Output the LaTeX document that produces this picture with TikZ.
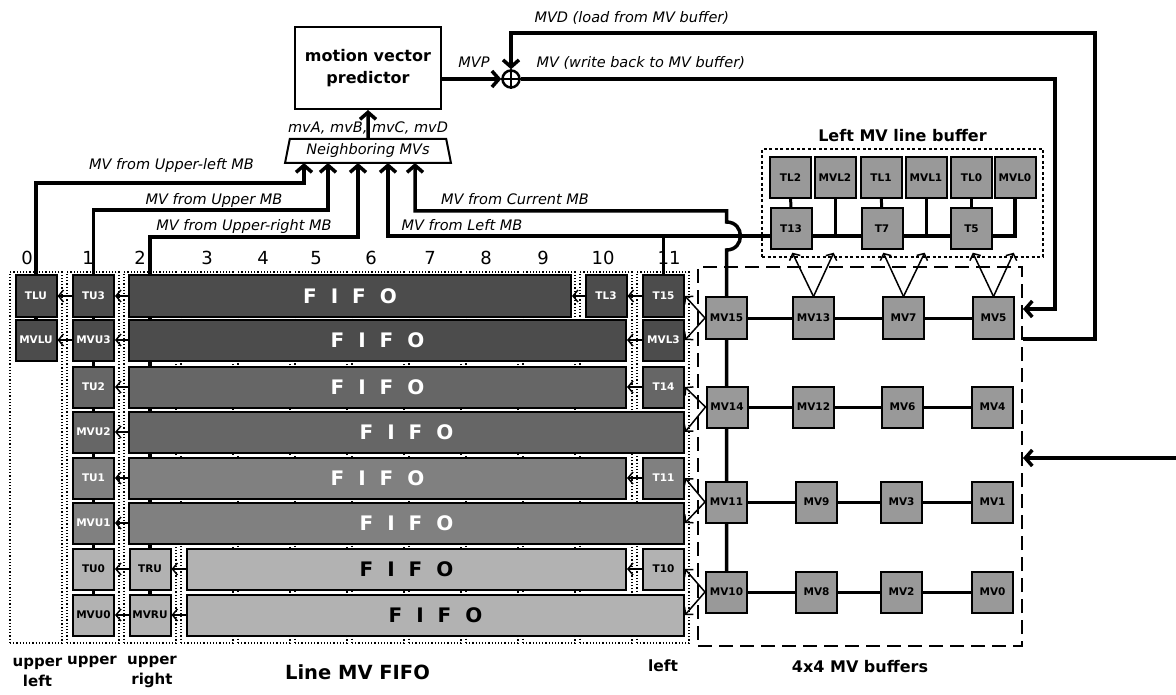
\documentclass[tikz,border=0pt]{standalone}
\usepackage{fontspec}
\setmainfont{DejaVu Sans}
\usepackage{tikz}
\usetikzlibrary{arrows.meta,positioning,shapes.geometric,backgrounds}
\newcommand{\fifotext}{F\hspace{14pt}I\hspace{14pt}F\hspace{14pt}O}
\tikzset{
  toneA/.style={fill=black!70, text=white},
  toneC/.style={fill=black!60, text=white},
  toneE/.style={fill=black!50, text=white},
  toneG/.style={fill=black!30, text=black},
  cell/.style={draw, line width=2pt, minimum width=41pt, minimum height=41pt,
               inner sep=0pt, font=\bfseries\fontsize{10.5}{12}\selectfont},
  mvcell/.style={cell, fill=black!40},
  fifo/.style={draw, line width=2pt, minimum width=#1, minimum height=41pt,
               inner sep=0pt, font=\bfseries\fontsize{20}{24}\selectfont},
  lane/.style={draw, dotted, line width=1.2pt, minimum width=52pt, minimum height=371pt},
  group/.style={draw, line width=2pt, dash pattern=on 14pt off 7pt},
  linebuf/.style={draw, line width=1.5pt, dash pattern=on 3pt off 2.5pt},
  bus/.style={line width=3.5pt},
  busarrow/.style={bus, -{Straight Barb[length=7pt,width=16pt]}},
  feed/.style={line width=1.5pt, -{Straight Barb[length=5pt,width=12pt]}},
  link/.style={line width=3pt},
  lbl/.style={font=\itshape\fontsize{14.5}{17}\selectfont},
  num/.style={font=\fontsize{18}{20}\selectfont},
  caption/.style={font=\bfseries\fontsize{15}{20}\selectfont, align=center}
}

\begin{document}
\begin{tikzpicture}[x=1pt, y=-1pt]
  \useasboundingbox (0,0) rectangle (1176,695);

  % predictor, adder and neighbour selector
  \node[draw, line width=2pt, minimum width=146pt, minimum height=82pt, align=center,
        font=\bfseries\fontsize{16}{22}\selectfont] (pred) at (368,68) {motion vector\\predictor};
  \node[draw, circle, line width=2.5pt, minimum size=17pt, inner sep=0pt] (sum) at (511,79) {};
  \draw[line width=2.5pt] (sum.north) -- (sum.south) (sum.west) -- (sum.east);
  \node[trapezium, draw, line width=2pt, trapezium angle=75, trapezium stretches=true,
        minimum width=166pt, minimum height=24pt, inner sep=0pt, lbl] (nbr) at (368,151) {Neighboring MVs};
  \coordinate (inUL) at (304,163);
  \coordinate (inU)  at (328,163);
  \coordinate (inUR) at (358,163);
  \coordinate (inL)  at (388,163);
  \coordinate (inC)  at (415,163);

  % upper left / upper / upper right columns
  \node[cell, toneA] (tlu)  at (36,296)   {TLU};
  \node[cell, toneA] (mvlu) at (36,340)   {MVLU};
  \node[cell, toneA] (tu3)  at (93.5,296) {TU3};
  \node[cell, toneA] (mvu3) at (93.5,340) {MVU3};
  \node[cell, toneC] (tu2)  at (93.5,387) {TU2};
  \node[cell, toneC] (mvu2) at (93.5,432) {MVU2};
  \node[cell, toneE] (tu1)  at (93.5,478) {TU1};
  \node[cell, toneE] (mvu1) at (93.5,523) {MVU1};
  \node[cell, toneG] (tu0)  at (93.5,569) {TU0};
  \node[cell, toneG] (mvu0) at (93.5,615) {MVU0};
  \node[cell, toneG] (tru)  at (150,569)  {TRU};
  \node[cell, toneG] (mvru) at (150,615)  {MVRU};

  % line MV FIFOs
  \node[fifo=442pt, toneA] (fa) at (350,296)   {\fifotext};
  \node[fifo=497pt, toneA] (fb) at (377.5,340) {\fifotext};
  \node[fifo=497pt, toneC] (fc) at (377.5,387) {\fifotext};
  \node[fifo=555pt, toneC] (fd) at (406.5,432) {\fifotext};
  \node[fifo=497pt, toneE] (fe) at (377.5,478) {\fifotext};
  \node[fifo=555pt, toneE] (ff) at (406.5,523) {\fifotext};
  \node[fifo=439pt, toneG] (fg) at (406.5,569) {\fifotext};
  \node[fifo=497pt, toneG] (fh) at (435.5,615) {\fifotext};

  % left columns
  \node[cell, toneA] (tl3)  at (606,296)   {TL3};
  \node[cell, toneA] (t15)  at (663.5,296) {T15};
  \node[cell, toneA] (mvl3) at (663.5,340) {MVL3};
  \node[cell, toneC] (t14)  at (663.5,387) {T14};
  \node[cell, toneE] (t11)  at (663.5,478) {T11};
  \node[cell, toneG] (t10)  at (663.5,569) {T10};

  % 4x4 MV buffers
  \foreach \n/\x/\y in {15/726.5/318, 13/813.5/318, 7/903.5/318, 5/993.5/318,
                        14/727/407, 12/813.5/407, 6/902.5/407, 4/992.5/407,
                        11/726.5/502, 9/816.5/502, 3/901.5/502, 1/992.5/502,
                        10/726.5/592, 8/816.5/592, 2/901.5/592, 0/992.5/592}
    \node[mvcell] (mv\n) at (\x,\y) {MV\n};
  \node[group, minimum width=324pt, minimum height=379pt] (buf4) at (860,456.5) {};
  \node[caption, font=\bfseries\fontsize{16}{20}\selectfont, below=10pt of buf4] (buf4cap) {4x4 MV buffers};
  \coordinate (mvdout) at (1023,339);
  \coordinate (wbin)   at (1023,309);
  \coordinate (extin)  at (1176,458);

  % left MV line buffer
  \foreach \n/\t/\x in {tl2/TL2/790.5, mvl2/MVL2/835, tl1/TL1/881, mvl1/MVL1/926, tl0/TL0/971.5, mvl0/MVL0/1015}
    \node[mvcell] (\n) at (\x,177.5) {\t};
  \foreach \n/\t/\x in {t13/T13/791, t7/T7/882, t5/T5/971.5}
    \node[mvcell] (\n) at (\x,228.5) {\t};
  \node[linebuf, minimum width=281pt, minimum height=108pt] (lbuf) at (902.5,203) {};
  \node[caption, font=\bfseries\fontsize{16}{20}\selectfont, above=3pt of lbuf] (lbufcap) {Left MV line buffer};

  % texts
  \node[lbl, anchor=west] (mvdlbl) at (531,18) {MVD (load from MV buffer)};
  \node[lbl] (mvplbl) at (474,62) {MVP};
  \node[lbl, anchor=west] (mvlbl) at (533,63) {MV (write back to MV buffer)};
  \node[lbl] (nbrlbl) at (368,128) {mvA, mvB, mvC, mvD};
  \node[lbl] (ullbl) at (171.5,166) {MV from Upper-left MB};
  \node[lbl] (ulbl)  at (214,201) {MV from Upper MB};
  \node[lbl] (urlbl) at (244,227) {MV from Upper-right MB};
  \node[lbl] (lflbl) at (462,225) {MV from Left MB};
  \node[lbl] (culbl) at (515,199) {MV from Current MB};
  \foreach \k/\x in {0/27, 1/88, 2/140, 3/207, 4/263, 5/316, 6/371, 7/430, 8/486, 9/543, 10/603, 11/669}
    \node[num] (num\k) at (\x,258) {\k};
  \node[caption] (capul) at (37.5,672) {upper\\left};
  \node[caption] (capu)  at (92,662) {upper};
  \node[caption] (capur) at (152,672) {upper\\right};
  \node[caption, font=\bfseries\fontsize{19.5}{22}\selectfont] (capfifo) at (357.5,672) {Line MV FIFO};
  \node[caption, font=\bfseries\fontsize{15.5}{20}\selectfont] (capl) at (663,666) {left};

  \begin{pgfonlayer}{background}
    \foreach \k in {0,...,11}
      \node[lane] (lane\k) at ({36+57*\k},457.5) {};
    % neighbouring MVs
    \draw[busarrow] (mvlu.center) |- ([yshift=-20pt]inUL) -- (inUL);
    \draw[busarrow] (mvu0.center) |- ([yshift=-47pt]inU) -- (inU);
    \draw[busarrow] (mvru.center) |- ([yshift=-74pt]inUR) -- (inUR);
    \draw[busarrow] (mvl0.south) |- ([yshift=-73pt]inL) -- (inL);
    \draw[bus] (t15.north) -- ++(0,-39);
    \draw[busarrow] (mv10.center) -- ++(0,-342) to[out=0,in=0,looseness=1.7] ++(0,-28)
      |- ([yshift=-48pt]inC) -- (inC);
    \draw[busarrow] (nbr.north) -- (pred.south);
    % predictor loop
    \draw[busarrow] (pred.east |- sum.west) -- (sum.west);
    \draw[busarrow] (mvdout) -- ++(72,0) |- ([yshift=36pt]sum.north) -- (sum.north);
    \draw[busarrow] (sum.east) -| ([xshift=32pt]wbin) -- (wbin);
    \draw[busarrow] (extin) -- (buf4.east |- extin);
    % buffer links
    \foreach \a/\b in {15/13, 13/7, 7/5, 14/12, 12/6, 6/4, 11/9, 9/3, 3/1, 10/8, 8/2, 2/0}
      \draw[link] (mv\a) -- (mv\b);
    \foreach \u/\v in {tl2/t13, tl1/t7, tl0/t5}
      \draw[link] (\u) -- (\v);
    \foreach \u in {mvl2, mvl1}
      \draw[link] (\u.south) -- ++(0,38);
  \end{pgfonlayer}

  % shifts between columns
  \foreach \u/\v in {fa/tu3, tu3/tlu, fb/mvu3, mvu3/mvlu, fc/tu2, fd/mvu2, fe/tu1, ff/mvu1,
                     fg/tru, tru/tu0, fh/mvru, mvru/mvu0, t15/tl3, tl3/fa, mvl3/fb,
                     t14/fc, t11/fe, t10/fg}
    \draw[feed] (\u) -- (\v);
  \foreach \m/\a/\b in {15/t15/mvl3, 14/t14/fd, 11/t11/ff, 10/t10/fh} {
    \draw[feed] (mv\m.west) -- (\a.east);
    \draw[feed] (mv\m.west) -- (\b.east);
  }
  \foreach \m/\t/\s in {13/t13/mvl2, 7/t7/mvl1, 5/t5/mvl0} {
    \draw[feed, shorten >=3pt] (mv\m.north) -- (\t.south);
    \draw[feed, shorten >=3pt] (mv\m.north) -- (\s.south |- \t.south);
  }
\end{tikzpicture}
\end{document}
